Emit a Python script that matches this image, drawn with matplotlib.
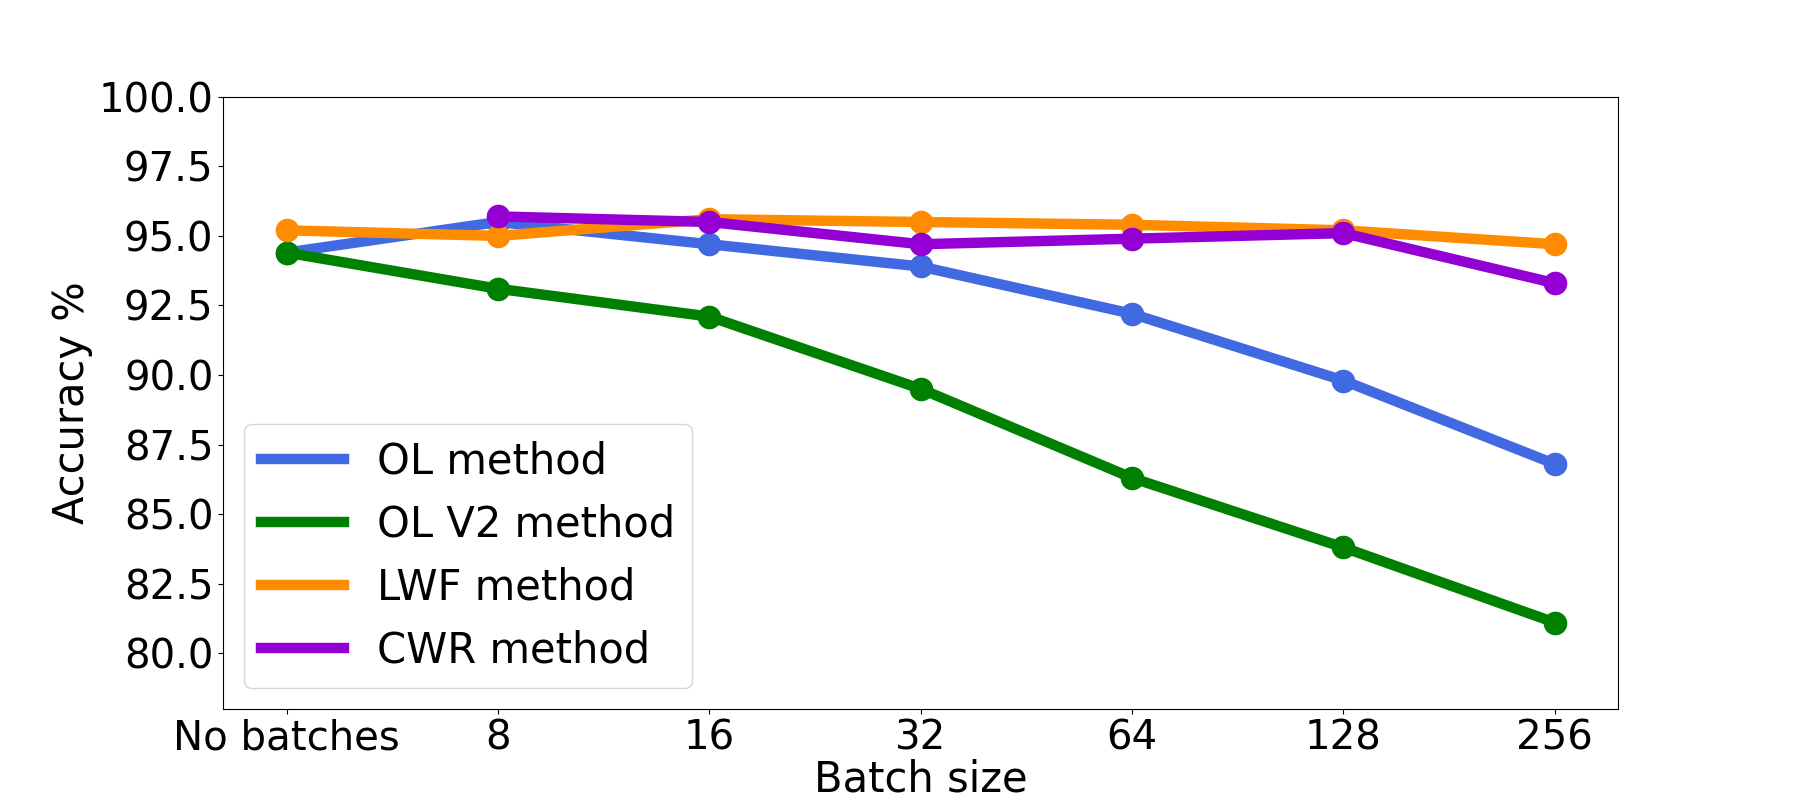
import numpy as np
import matplotlib
matplotlib.use("Agg")
import matplotlib.pyplot as plt
from matplotlib.lines import Line2D

# ---------------- DATA ----------------
batch_labels = ["No batches", "8", "16", "32", "64", "128", "256"]

ol_acc = [94.4, 95.5, 94.7, 93.9, 92.2, 89.8, 86.8]
ol_v2_acc = [94.4, 93.1, 92.1, 89.5, 86.3, 83.8, 81.1]
lwf_acc = [95.2, 95.0, 95.6, 95.5, 95.4, 95.2, 94.7]
cwr_acc = [np.nan, 95.7, 95.5, 94.7, 94.9, 95.1, 93.3]

series = [
    ("OL method", ol_acc, "royalblue"),
    ("OL V2 method", ol_v2_acc, "green"),
    ("LWF method", lwf_acc, "darkorange"),
    ("CWR method", cwr_acc, "darkviolet"),
]

# ---------------- PLOT ----------------
fig = plt.figure(figsize=(18, 8), dpi=100)
ax = fig.add_axes([0.124, 0.114, 0.775, 0.765])

x = np.arange(len(batch_labels))
handles = []
for name, vals, col in series:
    ax.plot(x, vals, color=col, linewidth=7.5, marker="o", markersize=16)
    # legend shows only the line (no marker)
    handles.append(Line2D([], [], color=col, linewidth=7.5, label=name))

ax.set_xticks(x)
ax.set_xticklabels(batch_labels)
ax.set_xlim(-0.3, 6.3)
ax.set_ylim(78, 100)
ax.set_yticks(np.arange(80, 100.1, 2.5))
ax.tick_params(labelsize=29)
ax.set_xlabel("Batch size", fontsize=30, labelpad=0)
ax.set_ylabel("Accuracy %", fontsize=30)

ax.legend(handles=handles, loc="lower left", fontsize=30, handlelength=2.0)

fig.savefig("out.png")
